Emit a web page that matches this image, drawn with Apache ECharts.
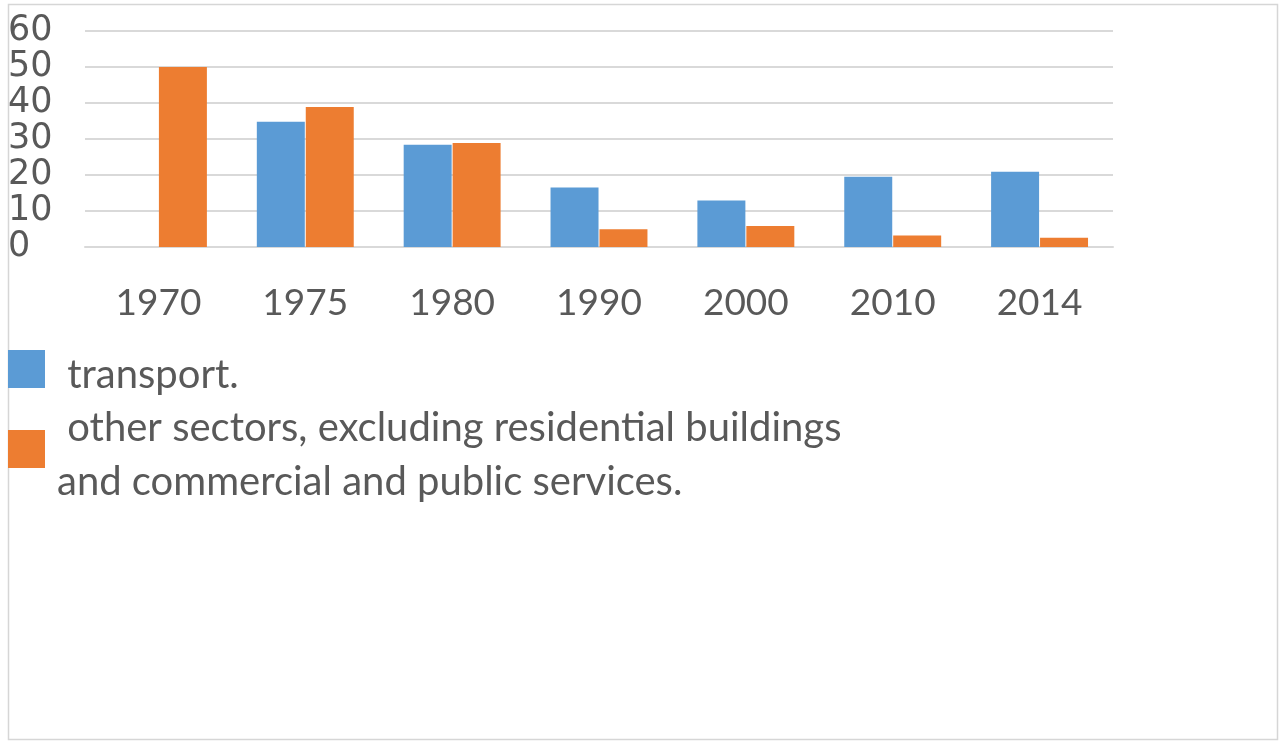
<!DOCTYPE html>
<html>
<head>
<meta charset="utf-8">
<script src="https://cdn.jsdelivr.net/npm/echarts@6/dist/echarts.min.js"></script>
<style>
  html, body { margin: 0; padding: 0; background: #fff; }
  #chart { width: 1285px; height: 742px; }
</style>
</head>
<body>
<div id="chart"></div>
<script>
// Share of final energy use by sector, per year
const years = ['1970', '1975', '1980', '1990', '2000', '2010', '2014'];
const transport = [null, 34.8, 28.4, 16.5, 12.9, 19.5, 20.9];
const otherSectors = [50, 38.9, 28.9, 4.9, 5.8, 3.2, 2.6];
const yTicks = [0, 10, 20, 30, 40, 50, 60];
const seriesNames = [
  'transport.',
  'other sectors, excluding residential buildings and commercial and public services.'
];
const legendLines = [
  [' transport.'],
  [' other sectors, excluding residential buildings', 'and commercial and public services.']
];

const BLUE = '#5B9BD5';
const ORANGE = '#ED7D31';
const TEXT = '#595959';
const GRID = '#D9D9D9';

const chart = echarts.init(document.getElementById('chart'));

// legend text: a thin spacer row pushes the label slightly below the swatch centre
const legendFormatter = (lines) => () =>
  ['{s| }'].concat(lines.map((l) => '{t|' + l + '}')).join('\n');

const legendText = (lineHeight) => ({
  rich: {
    s: { fontSize: 4, lineHeight: 12 },
    t: {
      fontFamily: 'Lato', fontSize: 40, color: TEXT,
      lineHeight: lineHeight, padding: [0, 0, 0, 7]
    }
  }
});

const legendBase = {
  orient: 'vertical',
  left: 8,
  padding: 0,
  icon: 'rect',
  itemWidth: 37,
  itemHeight: 38,
  selectedMode: false
};

chart.setOption({
  animation: false,
  backgroundColor: '#fff',
  graphic: [{
    type: 'rect',
    shape: { x: 8.5, y: 4.5, width: 1269, height: 735 },
    style: { fill: 'none', stroke: '#D6D6D6', lineWidth: 1.5 },
    silent: true,
    z: -1
  }],
  grid: {
    left: 85,
    right: 172,
    top: 31,
    height: 216
  },
  legend: [Object.assign({
    data: [seriesNames[0]],
    top: 348,
    formatter: legendFormatter(legendLines[0]),
    textStyle: legendText(38)
  }, legendBase), Object.assign({
    data: [seriesNames[1]],
    top: 393,
    formatter: legendFormatter(legendLines[1]),
    textStyle: legendText(54)
  }, legendBase)],
  xAxis: {
    type: 'category',
    data: years,
    axisLine: { show: true, lineStyle: { color: GRID, width: 2 } },
    axisTick: { show: false },
    axisLabel: {
      color: TEXT,
      fontFamily: 'Lato',
      fontSize: 37,
      verticalAlign: 'middle',
      margin: 56
    }
  },
  yAxis: {
    type: 'value',
    min: yTicks[0],
    max: yTicks[yTicks.length - 1],
    interval: 10,
    axisLine: { show: false },
    axisTick: { show: false },
    splitLine: { lineStyle: { color: GRID, width: 2 } },
    axisLabel: {
      color: TEXT,
      fontFamily: 'DejaVu Sans',
      fontSize: 35,
      align: 'left',
      margin: 77,
      showMinLabel: true,
      showMaxLabel: true
    }
  },
  series: [{
    name: seriesNames[0],
    type: 'bar',
    data: transport,
    itemStyle: { color: BLUE },
    barGap: '2%',
    barCategoryGap: '34%'
  }, {
    name: seriesNames[1],
    type: 'bar',
    data: otherSectors,
    itemStyle: { color: ORANGE },
    barGap: '2%',
    barCategoryGap: '34%'
  }]
});
</script>
</body>
</html>
